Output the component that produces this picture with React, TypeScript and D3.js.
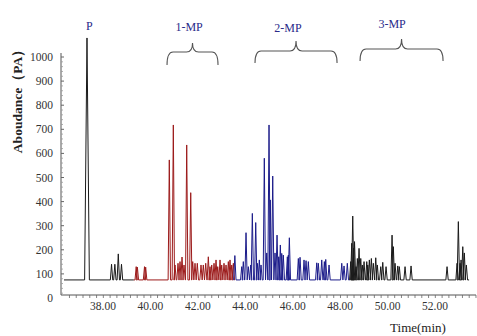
import React from "react";
import * as d3 from "d3";

// ---- data (minutes, abundance PA) ----
const xTickValues = [38, 40, 42, 44, 46, 48, 50, 52];
const yTickValues = [0, 100, 200, 300, 400, 500, 600, 700, 800, 900, 1000];
const baselineLevel = 75;
const runStart = 36.355;
const runEnd = 53.437;

const peakP = [{ t: 37.325, h: 1079 }];
const black1Peaks = [
  { t: 38.36, h: 140 }, { t: 38.5, h: 140 }, { t: 38.645, h: 183 }, { t: 38.78, h: 140 },
];
const redPeaks = [
  { t: 39.4, h: 130 }, { t: 39.45, h: 128 }, { t: 39.75, h: 130 }, { t: 39.8, h: 128 },
  { t: 40.796, h: 573 }, { t: 40.965, h: 718 }, { t: 41.037, h: 137 }, { t: 41.163, h: 144 },
  { t: 41.248, h: 151 }, { t: 41.332, h: 170 }, { t: 41.416, h: 137 }, { t: 41.53, h: 635 },
  { t: 41.699, h: 437 }, { t: 41.783, h: 151 }, { t: 41.88, h: 144 }, { t: 41.977, h: 144 },
  { t: 42.133, h: 137 }, { t: 42.23, h: 137 }, { t: 42.331, h: 144 }, { t: 42.441, h: 171 },
  { t: 42.513, h: 130 }, { t: 42.585, h: 137 }, { t: 42.682, h: 144 }, { t: 42.766, h: 158 },
  { t: 42.838, h: 130 }, { t: 42.935, h: 158 }, { t: 43.006, h: 137 }, { t: 43.103, h: 144 },
  { t: 43.188, h: 137 }, { t: 43.285, h: 151 }, { t: 43.356, h: 158 }, { t: 43.428, h: 137 },
  { t: 43.496, h: 144 },
];
const bluePeaks = [
  { t: 43.56, h: 176 }, { t: 43.85, h: 130 }, { t: 43.917, h: 151 }, { t: 44.031, h: 271 },
  { t: 44.128, h: 130 }, { t: 44.229, h: 137 }, { t: 44.297, h: 351 }, { t: 44.44, h: 313 },
  { t: 44.508, h: 144 }, { t: 44.592, h: 158 }, { t: 44.664, h: 137 }, { t: 44.803, h: 580 },
  { t: 44.904, h: 187 }, { t: 45.001, h: 718 }, { t: 45.056, h: 407 }, { t: 45.157, h: 506 },
  { t: 45.254, h: 187 }, { t: 45.339, h: 261 }, { t: 45.41, h: 171 }, { t: 45.478, h: 220 },
  { t: 45.537, h: 185 }, { t: 45.604, h: 178 }, { t: 45.773, h: 171 }, { t: 45.816, h: 178 },
  { t: 45.858, h: 250 }, { t: 46.237, h: 164 }, { t: 46.309, h: 169 }, { t: 46.477, h: 158 },
  { t: 46.562, h: 155 }, { t: 46.659, h: 151 }, { t: 47.013, h: 146 }, { t: 47.081, h: 144 },
  { t: 47.224, h: 158 }, { t: 47.334, h: 151 }, { t: 47.393, h: 160 }, { t: 47.532, h: 137 },
  { t: 48.068, h: 144 }, { t: 48.164, h: 133 }, { t: 48.303, h: 144 },
];
const black2Peaks = [
  { t: 48.447, h: 151 }, { t: 48.489, h: 227 }, { t: 48.531, h: 340 }, { t: 48.565, h: 206 },
  { t: 48.607, h: 234 }, { t: 48.671, h: 130 }, { t: 48.726, h: 164 }, { t: 48.797, h: 206 },
  { t: 48.869, h: 164 }, { t: 48.936, h: 137 }, { t: 49.008, h: 151 }, { t: 49.122, h: 151 },
  { t: 49.164, h: 137 }, { t: 49.232, h: 158 }, { t: 49.316, h: 164 }, { t: 49.4, h: 144 },
  { t: 49.501, h: 167 }, { t: 49.569, h: 137 }, { t: 49.712, h: 130 }, { t: 49.797, h: 148 },
  { t: 49.936, h: 130 }, { t: 50.189, h: 261 }, { t: 50.244, h: 213 }, { t: 50.316, h: 144 },
  { t: 50.43, h: 133 }, { t: 50.497, h: 130 }, { t: 50.737, h: 130 }, { t: 50.99, h: 133 },
  { t: 52.508, h: 130 }, { t: 52.93, h: 144 }, { t: 52.985, h: 317 }, { t: 53.057, h: 144 },
  { t: 53.099, h: 158 }, { t: 53.171, h: 213 }, { t: 53.238, h: 187 }, { t: 53.323, h: 137 },
];

const segments = [
  { name: "P+impurity", from: runStart, to: 39.3, color: "#1a1a1a", peaks: [...peakP, ...black1Peaks] },
  { name: "1-MP", from: 39.3, to: 43.53, color: "#9c1a1a", peaks: redPeaks },
  { name: "2-MP", from: 43.53, to: 48.4, color: "#1c1c8a", peaks: bluePeaks },
  { name: "3-MP", from: 48.4, to: runEnd, color: "#1a1a1a", peaks: black2Peaks },
];

const groupLabels = ["1-MP", "2-MP", "3-MP"];
const groupLabelT = [41.63, 45.8, 50.19];
const groupBraceFrom = [40.7, 44.41, 48.84];
const groupBraceTo = [42.85, 47.87, 52.34];

export default function App() {
  const W = 477, H = 336;
  const x = d3.scaleLinear().domain([38, 52]).range([103, 435]);
  const y = d3.scaleLinear().domain([0, 1000]).range([298, 57]);
  const axisY = 295;
  const axisX = 61;
  const xAxisEnd = 476;

  const line = d3.line<[number, number]>().x((d) => x(d[0])).y((d) => y(d[1]));

  const segPath = (seg: typeof segments[number]) => {
    const pts: [number, number][] = [[seg.from, baselineLevel]];
    const sorted = [...seg.peaks].sort((a, b) => a.t - b.t);
    for (const p of sorted) {
      const hw = p.h > 900 ? 0.1 : 0.05;
      pts.push([p.t - hw, baselineLevel], [p.t, p.h], [p.t + hw, baselineLevel]);
    }
    pts.push([seg.to, baselineLevel]);
    return line(pts) || "";
  };

  const xMinor = d3.range(36.3, 53.75, 2 / 7).filter((t) => x(t) > axisX + 2 && x(t) < xAxisEnd);
  const yMinor = d3.range(20, 1001, 20).filter((v) => v % 100 !== 0);

  const brace = (x1: number, x2: number, cx: number, yt: number, yh: number, ye: number) => {
    const r = 6;
    return `M${x1},${ye} Q${x1},${yh} ${x1 + r},${yh} L${cx - r},${yh} Q${cx},${yh} ${cx},${yt} Q${cx},${yh} ${cx + r},${yh} L${x2 - r},${yh} Q${x2},${yh} ${x2},${ye}`;
  };
  const braceY = [
    { yt: 43, yh: 52, ye: 65, ly: 31 },
    { yt: 41, yh: 51, ye: 63, ly: 32 },
    { yt: 39, yh: 49, ye: 61, ly: 28 },
  ];

  return (
    <svg width={W} height={H} style={{ position: "absolute", left: 0, top: 0, background: "#fff" }}
      fontFamily="'Liberation Serif', 'Times New Roman', serif">
      <rect width={W} height={H} fill="#fff" />
      {/* axes */}
      <line x1={axisX} y1={53} x2={axisX} y2={axisY} stroke="#555" strokeWidth={1} />
      <line x1={axisX} y1={axisY} x2={xAxisEnd} y2={axisY} stroke="#555" strokeWidth={1} />
      {yTickValues.map((v) => (
        <g key={"yt" + v}>
          {v > 0 && <line x1={axisX} x2={axisX + 3} y1={y(v)} y2={y(v)} stroke="#666" />}
          <text x={53} y={y(v) + 4} textAnchor="end" fontSize={11.5} fill="#333">{v}</text>
        </g>
      ))}
      {yMinor.map((v) => (
        <line key={"ym" + v} x1={axisX} x2={axisX + 2} y1={y(v)} y2={y(v)} stroke="#999" strokeWidth={0.8} />
      ))}
      {xMinor.map((t, i) => (
        <line key={"xm" + i} x1={x(t)} x2={x(t)} y1={axisY} y2={axisY + 3} stroke="#666" strokeWidth={0.8} />
      ))}
      {xTickValues.map((t) => (
        <text key={"xt" + t} x={x(t)} y={310} textAnchor="middle" fontSize={11.5} fill="#333">{t.toFixed(2)}</text>
      ))}
      <text x={418} y={332} textAnchor="middle" fontSize={13} fill="#222">Time(min)</text>
      <text transform={`translate(22,98) rotate(-90)`} textAnchor="middle" fontSize={13.5} fontWeight="bold" fill="#222">Aboudance（PA）</text>

      {/* chromatogram */}
      {segments.map((s) => (
        <path key={s.name} d={segPath(s)} fill="none" stroke={s.color} strokeWidth={1} strokeLinejoin="miter" />
      ))}

      {/* annotations */}
      <text x={x(37.42)} y={30} textAnchor="middle" fontSize={12} fill="#2a2a8a">P</text>
      {groupLabels.map((lab, i) => {
        const x1 = x(groupBraceFrom[i]);
        const x2 = x(groupBraceTo[i]);
        const cx = (x1 + x2) / 2;
        const b = braceY[i];
        return (
          <g key={lab}>
            <text x={x(groupLabelT[i])} y={b.ly} textAnchor="middle" fontSize={12} fill="#2a2a8a">{lab}</text>
            <path d={brace(x1, x2, cx, b.yt, b.yh, b.ye)} fill="none" stroke="#555" strokeWidth={1.1} />
          </g>
        );
      })}
    </svg>
  );
}
